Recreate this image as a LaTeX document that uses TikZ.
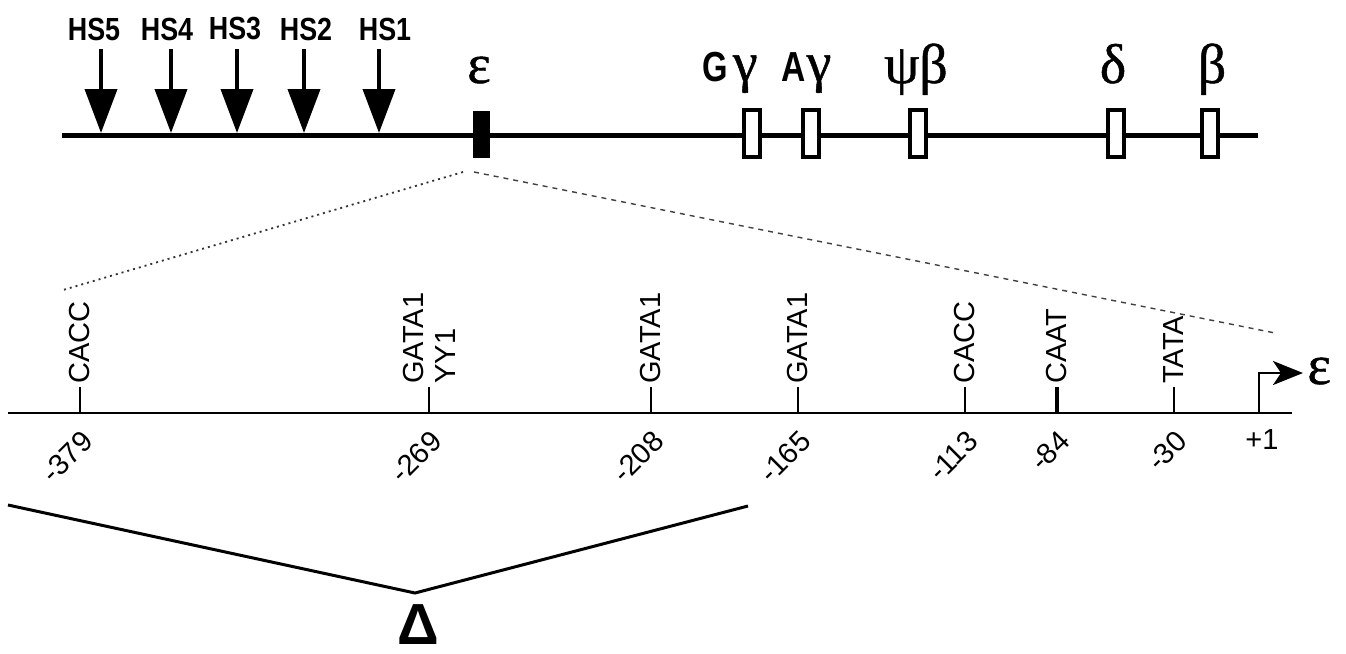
\documentclass[tikz,border=0pt]{standalone}
\usepackage{fontspec}
\usepackage{graphicx}
\setmainfont{Liberation Sans}
\newfontfamily\grk[FakeBold=0.8]{Liberation Serif}
\usetikzlibrary{arrows.meta}
\newcommand{\hstext}[1]{\scalebox{0.84}[1]{\bfseries\fontsize{16}{18}\selectfont #1}}
\newcommand{\gam}{{\mdseries\grk\fontsize{28}{30}\selectfont γ}}
\tikzset{
  hslab/.style={inner sep=0pt},
  hsarr/.style={line width=2pt, -{Triangle[width=16pt,length=22pt]}},
  chrom/.style={line width=2.5pt},
  genebox/.style={draw, line width=2pt, fill=white, minimum width=8pt, minimum height=23.5pt, inner sep=0pt},
  epsblock/.style={fill=black, minimum width=8.5pt, minimum height=23.5pt, inner sep=0pt},
  greek/.style={font=\grk\fontsize{28}{30}\selectfont, inner sep=0pt},
  glab/.style={font=\bfseries\fontsize{21}{24}\selectfont, inner sep=0pt},
  axis/.style={line width=1pt},
  tickline/.style={line width=1.2pt},
  site/.style={font=\fontsize{14.5}{16}\selectfont, rotate=90, anchor=west, inner sep=1.5pt, align=left},
  num/.style={font=\fontsize{14.5}{16}\selectfont, rotate=45, anchor=east, inner sep=0pt},
  dotline/.style={line width=0.9pt, gray!40!black, dash pattern=on 1pt off 2pt},
  dashline/.style={line width=0.7pt, gray!50!black, dash pattern=on 2.5pt off 2.5pt},
  vline/.style={line width=1.5pt},
  prom/.style={line width=1.4pt, -{Stealth[width=12pt,length=15pt,inset=4pt]}},
}
\begin{document}
\begin{tikzpicture}[x=0.5pt,y=-0.5pt]
\useasboundingbox (0,0) rectangle (1346,654);

% chromosome line
\coordinate (cl) at (62,135);
\coordinate (cr) at (1258,135);
\draw[chrom] (cl) -- (cr);

% HS sites
\foreach \n/\lx/\ax in {5/94/101, 4/167/171, 3/235/237, 2/306/304, 1/385/379}{
  \node[hslab] (hs\n) at (\lx,29) {\hstext{HS\n}};
  \coordinate (hst\n) at (\ax,49);
  \coordinate (hsb\n) at (\ax,133);
  \draw[hsarr] (hst\n) -- (hsb\n);
}

% genes
\node[epsblock] (epsbox) at (481.5,134.5) {};
\node[genebox] (ggbox) at (752,133) {};
\node[genebox] (agbox) at (811,133) {};
\node[genebox] (pbbox) at (918,133) {};
\node[genebox] (dbox) at (1116,133) {};
\node[genebox] (bbox) at (1210,133) {};

\node[greek, anchor=base] (epsl) at (479,83) {ε};
\node[glab, anchor=base west] (ggl) at (702,81) {\scalebox{0.78}[1]{G}\kern2.5pt\gam};
\node[glab, anchor=base west] (agl) at (781,81) {\scalebox{0.8}[1]{A}\kern0.5pt\gam};
\node[greek, anchor=base] (pbl) at (916,83) {ψβ};
\node[greek, anchor=base] (dl) at (1113,83) {δ};
\node[greek, anchor=base] (bl) at (1212,83) {β};

% zoom lines
\coordinate (zl) at (463,172);
\coordinate (zr) at (474,172);
\coordinate (zle) at (63,290);
\coordinate (zre) at (1275,333);
\draw[dotline] (zl) -- (zle);
\draw[dashline] (zr) -- (zre);

% promoter axis
\coordinate (axl) at (8,413);
\coordinate (axr) at (1292,413);
\draw[axis] (axl) -- (axr);

\foreach \id/\x/\lab/\num/\tw in {a/80/CACC/-379/1.2pt, b/429/{GATA1\\YY1}/-269/1.2pt, c/651/GATA1/-208/1.2pt, d/798/GATA1/-165/1.2pt, e/965/CACC/-113/1.2pt, f/1057/CAAT/-84/1.8pt, g/1174/TATA/-30/1.2pt}{
  \coordinate (p\id) at (\x,413);
  \node[site] (s\id) at (\x,387) {\lab};
  \draw[tickline, line width=\tw] (p\id) -- (s\id.west);
  \node[num] (n\id) at ([xshift=4pt,yshift=-11.5pt]p\id) {\num};
}
\coordinate (tss) at (1259,413);
\coordinate (ptip) at (1303,373);
\node[font=\fontsize{14.5}{16}\selectfont, inner sep=0pt] (n1) at (1262,440) {+1};
\node[greek, anchor=base west] (epsr) at (1307,384) {ε};
\draw[prom] (tss) |- (ptip);

% deletion
\coordinate (vl) at (8,505);
\coordinate (vv) at (415,593);
\coordinate (vr) at (748,506);
\draw[vline] (vl) -- (vv) -- (vr);
\node[font=\bfseries\fontsize{29}{30}\selectfont, inner sep=0pt, anchor=base] (delta) at (418,644) {Δ};
\end{tikzpicture}
\end{document}
